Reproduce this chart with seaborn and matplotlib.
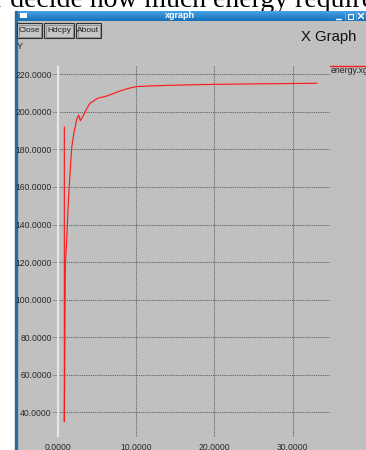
import numpy as np
import pandas as pd
import matplotlib
matplotlib.use("Agg")
import matplotlib.pyplot as plt
import seaborn as sns
from matplotlib.patches import Rectangle
from matplotlib.colors import LinearSegmentedColormap

# energy trace (time, energy)
t = [0.85, 0.85, 0.97, 1.15, 1.35, 1.57, 1.79, 2.08, 2.43, 2.68, 2.89, 3.19,
     3.62, 4.13, 5.10, 6.26, 7.96, 9.23, 10.0, 11.8, 14.1, 18.2, 23.3, 28.0, 33.1]
energy = [192, 35, 118, 132, 151, 167, 181, 189, 196, 198.3, 195.3, 197.4,
          201, 204.6, 207.2, 208.4, 211.1, 212.7, 213.4, 213.8, 214.1, 214.5,
          214.8, 215.0, 215.2]

x_ticks = [0, 10, 20, 30]
y_ticks = [40, 60, 80, 100, 120, 140, 160, 180, 200, 220]
buttons = ["Close", "Hdcpy", "About"]
legend_label = "energy.xg"
window_title = "xgraph"
graph_title = "X Graph"
y_axis_label = "Y"
caption = "r decide how much energy required"

LINE = "#ff1a1a"
GRAY = "#c0c0c0"

sns.set_style("white")
plt.rcParams["font.family"] = ["Liberation Sans", "DejaVu Sans"]

W, H = 366, 450
fig = plt.figure(figsize=(W / 100, H / 100), dpi=100)

# window chrome drawn in pixel coordinates
bg = fig.add_axes([0, 0, 1, 1], zorder=0)
bg.axis("off")
bg.add_patch(Rectangle((0, 0), W, H, color="white", zorder=0))
bg.text(-6, 7, caption, family="Liberation Serif", fontsize=20,
        va="baseline", ha="left", color="black", zorder=1)
bg.add_patch(Rectangle((16, 21), W - 16, H - 21, color=GRAY, zorder=2))

cmap = LinearSegmentedColormap.from_list("bar", ["#45a2e6", "#1670b8"])
grad = np.linspace(0, 1, 32).reshape(-1, 1)
bg.imshow(grad, cmap=cmap, extent=(15, W, 21, 11), aspect="auto", zorder=3)
bg.add_patch(Rectangle((14.5, 11), 2, H - 11, color="#2c6b9c", zorder=4))
bg.add_patch(Rectangle((20, 13), 7, 5, fc="white", ec="none", zorder=5))
bg.text(180, 15.8, window_title, color="white", fontweight="bold",
        fontsize=6.5, ha="center", va="center", zorder=5)
# title-bar controls
bg.plot([336, 341], [18.5, 18.5], color="white", lw=1, zorder=5)
bg.add_patch(Rectangle((347.5, 13.5), 5, 5, fc="none", ec="white", lw=0.8, zorder=5))
bg.plot([358.5, 363.5], [13.5, 18.5], color="white", lw=1, zorder=5)
bg.plot([358.5, 363.5], [18.5, 13.5], color="white", lw=1, zorder=5)
for sx in (344.5, 355.5):
    bg.plot([sx, sx], [12, 20], color="#6ab4ec", lw=0.6, zorder=5)

# buttons
spans = [(17, 42), (44, 74), (76, 101)]
for (x0, x1), name in zip(spans, buttons):
    bg.add_patch(Rectangle((x0, 23), x1 - x0, 15, fc="#c6c6c6", ec="#303030",
                           lw=0.8, zorder=5))
    bg.add_patch(Rectangle((x0 + 1.5, 24.5), x1 - x0 - 3, 12, fc="none",
                           ec="#7a7a7a", lw=0.5, zorder=5))
    bg.text((x0 + x1) / 2, 30.8, name, fontsize=6, ha="center", va="center",
            color="#202020", zorder=6)

bg.text(356, 37.5, graph_title, fontsize=10.7, ha="right", va="center",
        color="#111111", zorder=5)
bg.text(17, 46.5, y_axis_label, fontsize=6.5, ha="left", va="center",
        color="#202020", zorder=5)

# legend entry
bg.plot([330, W], [65.7, 65.7], color=LINE, lw=1, zorder=5)
bg.text(331, 70.5, legend_label, fontsize=6.2, ha="left", va="center",
        color="#222222", zorder=5)
bg.set_xlim(0, W)
bg.set_ylim(H, 0)

# data area
ax = fig.add_axes([53 / W, 1 - 437 / H, (330 - 53) / W, (437 - 66) / H], zorder=2)
ax.patch.set_visible(False)
df = pd.DataFrame({"t": t, "energy": energy})
sns.lineplot(data=df, x="t", y="energy", sort=False, estimator=None,
             color=LINE, lw=0.85, ax=ax, zorder=4)
ax.axvline(0, color="#e6e6e6", lw=1.6, zorder=3)

ax.set_xlim(-0.6, 34.78)
ax.set_ylim(26.85, 224.4)
ax.set_xticks(x_ticks)
ax.set_xticklabels([f"{v:.4f}" for v in x_ticks])
ax.set_yticks(y_ticks)
ax.set_yticklabels([f"{v:.4f}" for v in y_ticks])
ax.grid(True, color="#6a6a6a", linestyle=(0, (1.2, 0.9)), lw=0.75)
ax.set_axisbelow(True)
for s in ax.spines.values():
    s.set_visible(False)
ax.tick_params(axis="both", length=0, labelsize=6.2, labelcolor="#2a2a2a")
ax.tick_params(axis="y", pad=0.8)
ax.tick_params(axis="x", pad=4.3)
ax.set_xlabel("")
ax.set_ylabel("")

fig.savefig("out.png", dpi=100)
